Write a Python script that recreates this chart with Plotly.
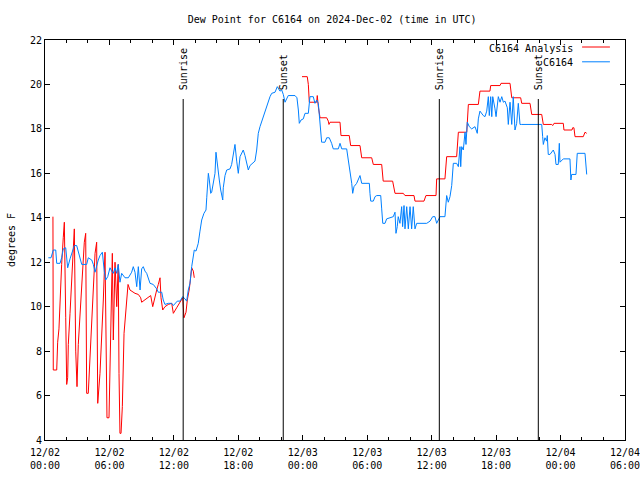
import pandas as pd
import plotly.graph_objects as go

START = pd.Timestamp("2024-12-02 00:00")

# Observed dew point (C6164): hours since 2024-12-02 00:00 UTC, degrees F
obs_hours = [0.31, 0.56, 0.77, 1.0, 1.09, 1.40, 1.55, 1.70, 1.93, 2.02, 2.11, 2.33, 2.49, 2.63, 2.73, 2.95,
             3.10, 3.26, 3.42, 3.88, 4.03, 4.35, 4.50, 4.66, 4.81, 4.96, 5.12, 5.34, 5.52, 5.65, 5.84, 6.05,
             6.21, 6.36, 6.52, 6.68, 6.82, 6.98, 7.14, 7.45, 7.76, 8.07, 8.22, 8.38, 8.54, 8.69, 8.85, 9.00,
             9.15, 9.31, 9.47, 9.62, 9.78, 10.08, 10.40, 10.55, 10.87, 11.01, 11.17, 11.48, 11.80, 11.95,
             12.10, 12.32, 12.57, 12.82, 13.04, 13.19, 13.34, 13.50, 13.66, 13.90, 14.06, 14.27, 14.43,
             14.59, 14.80, 14.99, 15.06, 15.11, 15.21, 15.30, 15.43, 15.52, 15.67, 15.83, 15.92, 16.04,
             16.23, 16.36, 16.55, 16.60, 16.76, 16.92, 17.23, 17.38, 17.53, 17.69, 17.85, 18.00, 18.16,
             18.32, 18.46, 18.62, 18.78, 18.93, 19.09, 19.40, 19.55, 19.71, 19.86, 20.02, 20.18, 20.33,
             20.48, 20.64, 20.79, 20.95, 21.11, 21.42, 21.63, 21.88, 22.04, 22.19, 22.35, 22.65, 23.28,
             23.46, 23.59, 23.68, 23.84, 24.05, 24.21, 24.52, 24.67, 24.98, 25.14, 25.30, 25.45, 25.61,
             25.67, 25.76, 25.86, 26.07, 26.23, 26.47, 26.69, 26.84, 27.31, 27.47, 27.63, 28.09, 28.24,
             28.40, 28.56, 28.65, 28.77, 29.02, 29.17, 29.33, 29.49, 29.80, 30.20, 30.26, 30.33, 30.57,
             30.73, 30.89, 31.26, 31.35, 31.45, 31.66, 31.81, 32.43, 32.59, 32.68, 32.80, 32.89, 33.05,
             33.21, 33.30, 33.43, 33.52, 33.68, 33.83, 33.99, 34.14, 34.29, 34.45, 34.61, 35.54, 35.85,
             36.10, 36.31, 36.47, 36.78, 37.24, 37.40, 37.55, 37.71, 37.87, 38.02, 38.33, 38.49, 38.64,
             38.71, 38.80, 38.95, 39.11, 39.20, 39.32, 39.51, 39.73, 40.04, 40.25, 40.35, 40.50, 40.81,
             40.97, 41.13, 41.28, 41.37, 41.50, 41.60, 41.69, 41.90, 42.00, 42.21, 42.37, 42.53, 42.68,
             42.83, 43.05, 43.14, 43.30, 43.46, 43.60, 43.76, 43.92, 44.07, 44.23, 44.39, 45.78, 46.25,
             46.34, 46.40, 46.55, 46.71, 46.77, 46.86, 47.02, 47.33, 47.49, 47.58, 47.79, 47.89, 47.95,
             48.11, 48.26, 48.88, 48.97, 49.04, 49.44, 49.56, 50.28, 50.44]
obs_values = [12.2, 12.2, 12.55, 12.55, 11.95, 11.95, 12.2, 12.6, 12.65, 12.3, 11.75, 12.15, 12.4, 12.55, 12.75, 12.75,
              12.5, 12.2, 11.9, 11.9, 12.2, 12.1, 11.9, 11.55, 11.85, 12.1, 12.3, 12.45, 11.6, 11.2, 11.35, 11.75,
              11.6, 11.5, 11.75, 11.5, 11.9, 11.1, 11.5, 11.3, 11.3, 11.55, 11.8, 11.55, 10.9, 11.8, 10.75, 11.7,
              11.8, 11.6, 11.5, 11.3, 11.05, 11.0, 10.8, 10.65, 10.65, 10.3, 10.1, 10.15, 10.15, 10.05,
              10.15, 10.25, 10.25, 10.45, 10.35, 10.25, 10.75, 11.05, 11.8, 12.55, 12.5, 12.85, 13.4,
              13.9, 14.2, 14.35, 14.9, 15.55, 16.0, 15.7, 15.1, 15.15, 15.55, 16.0, 16.95, 16.4,
              15.7, 15.25, 14.8, 15.35, 15.9, 16.15, 16.2, 16.4, 16.85, 17.3, 16.55, 16.0, 16.75,
              16.95, 17.05, 16.8, 16.5, 16.15, 16.35, 16.5, 16.55, 17.05, 17.8, 18.1, 18.35, 18.55,
              18.8, 19.0, 19.25, 19.45, 19.6, 19.65, 19.9, 19.7, 19.75, 19.55, 19.2, 19.5, 19.5,
              19.4, 18.85, 18.25, 18.4, 18.45, 18.7, 18.7, 19.45, 19.45, 19.15, 19.3, 19.15, 18.3,
              17.65, 17.4, 17.4, 17.4, 17.6, 17.6, 17.35, 17.1, 17.1, 17.35, 17.1, 17.1, 16.6,
              16.1, 15.55, 15.1, 15.4, 15.55, 15.7, 15.9, 15.55, 15.55, 15.55, 15.1, 14.75, 14.75,
              14.95, 15.0, 15.0, 14.4, 13.75, 13.75, 13.95, 14.05, 14.25, 13.3, 13.6, 14.05, 13.75,
              14.5, 13.6, 14.55, 13.5, 14.5, 13.5, 14.5, 13.5, 14.5, 13.5, 13.75, 13.75, 13.85,
              14.05, 14.05, 13.75, 14.05, 14.05, 15.0, 14.7, 14.95, 15.45, 16.45, 16.45, 16.3, 17.2,
              16.3, 17.2, 17.05, 17.85, 17.3, 18.3, 18.1, 18.0, 18.1, 17.8, 18.45, 18.8, 18.6,
              18.55, 18.8, 19.45, 18.6, 19.45, 18.55, 19.45, 18.9, 18.55, 19.45, 19.2, 19.45, 19.2,
              19.25, 18.95, 18.2, 19.2, 18.2, 19.45, 17.95, 18.25, 19.15, 18.2, 18.2, 18.2, 18.2,
              17.65, 17.3, 17.6, 17.45, 17.7, 16.85, 16.85, 17.05, 16.85, 16.4, 16.4, 17.35, 16.5,
              16.6, 16.65, 16.65, 15.7, 15.95, 15.95, 16.9, 16.9, 15.95]

# Analysis dew point (C6164 Analysis); None marks the data gap
ana_hours = [0.74, 0.77, 1.09, 1.18, 1.30, 1.40, 1.55, 1.70, 1.80, 1.93, 2.02, 2.11, 2.17, 2.33, 2.49, 2.63,
             2.73, 2.86, 2.98, 3.10, 3.26, 3.42, 3.57, 3.66, 3.79, 3.88, 4.03, 4.19, 4.35, 4.50, 4.66, 4.81,
             4.91, 5.12, 5.28, 5.43, 5.59, 5.77, 5.96, 6.05, 6.15, 6.27, 6.36, 6.52, 6.68, 6.82, 6.89, 6.98,
             7.08, 7.20, 7.36, 7.54, 7.73, 7.91, 8.07, 8.38, 8.69, 8.91, 9.00, 9.31, 9.62, 9.84, 10.03, 10.15,
             10.40, 10.55, 10.71, 10.80, 10.96, 11.17, 11.48, 11.80, 11.95, 12.26, 12.57, 12.82, 12.94, 13.13,
             13.25, 13.44, 13.57, 13.66, 13.81, 13.90,
             19.0,
             23.93, 24.42, 24.52, 24.61, 25.30, 25.35, 25.45, 25.54, 25.61, 26.23, 26.38, 26.44, 26.54, 27.47,
             27.56, 28.33, 28.46, 29.33, 29.49, 30.42, 30.57, 31.35, 31.49, 32.37, 32.50, 32.59, 33.36, 33.52,
             34.36, 34.45, 35.29, 35.47, 36.41, 36.47, 37.24, 37.40, 38.33, 38.49, 39.27, 39.42, 40.35, 40.50,
             41.43, 41.50, 42.37, 42.46, 43.30, 43.46, 44.29, 44.39, 45.16, 45.32, 46.25, 46.40, 47.18, 47.27,
             47.40, 48.26, 48.32, 49.07, 49.13, 49.25, 49.35, 50.12, 50.28, 50.44]
ana_values = [14.05, 7.15, 7.15, 8.4, 9.0, 10.6, 11.9, 13.1, 13.8, 9.5, 6.5, 6.8, 8.3, 9.7, 11.1, 12.9,
              13.5, 8.0, 6.4, 8.3, 9.7, 11.1, 12.3, 12.9, 13.3, 6.1, 6.1, 7.6, 9.2, 10.8, 12.4, 12.9,
              5.65, 7.0, 8.5, 10.3, 12.45, 5.0, 5.0, 7.0, 9.0, 12.4, 8.5, 12.0, 10.0, 11.9, 7.0, 4.3,
              4.3, 5.5, 8.8, 10.1, 11.0, 10.75, 10.7, 10.6, 10.55, 10.4, 10.2, 10.3, 10.4, 10.5, 10.0, 10.3,
              10.75, 11.0, 11.3, 10.4, 9.85, 10.0, 10.1, 10.15, 9.7, 9.95, 10.2, 10.4, 9.5, 9.75,
              10.3, 10.8, 11.35, 11.75, 11.6, 11.3,
              None,
              20.35, 20.35, 20.0, 19.2, 19.2, 19.5, 19.0, 18.8, 18.5, 18.5, 18.35, 18.2, 18.3, 18.3,
              17.7, 17.7, 17.25, 17.25, 16.7, 16.7, 16.4, 16.4, 15.65, 15.65, 15.3, 15.1, 15.1, 15.0,
              15.0, 14.75, 14.75, 15.0, 15.0, 15.75, 15.75, 16.75, 16.75, 17.85, 17.85, 19.1, 19.1, 19.7,
              19.7, 19.95, 19.95, 20.05, 20.05, 19.4, 19.4, 19.15, 19.15, 18.65, 18.65, 18.2, 18.2, 18.15,
              18.25, 18.25, 17.95, 17.95, 18.05, 18.05, 17.65, 17.65, 17.85, 17.8]

sun_events = ["2024-12-02 12:52", "2024-12-02 22:11", "2024-12-03 12:43", "2024-12-03 21:56"]
sun_labels = ["Sunrise", "Sunset", "Sunrise", "Sunset"]

tick_times = pd.date_range("2024-12-02 00:00", "2024-12-04 06:00", freq="6h")
tick_text = [t.strftime("%m/%d<br>%H:%M") for t in tick_times]

FONT = "DejaVu Sans Mono"
RED = "#ff0000"
BLUE = "#0080ff"

obs_t = START + pd.to_timedelta(obs_hours, unit="h")
ana_t = START + pd.to_timedelta(ana_hours, unit="h")

fig = go.Figure()
fig.add_trace(go.Scatter(x=ana_t, y=ana_values, mode="lines", name="C6164 Analysis",
                         line=dict(color=RED, width=1), connectgaps=False))
fig.add_trace(go.Scatter(x=obs_t, y=obs_values, mode="lines", name="C6164",
                         line=dict(color=BLUE, width=1)))

shapes = []
annotations = []
for t, lab in zip(sun_events, sun_labels):
    shapes.append(dict(type="line", xref="x", yref="paper", x0=t, x1=t, y0=0, y1=0.8525,
                       line=dict(color="black", width=1)))
    annotations.append(dict(x=t, xref="x", y=0.87, yref="paper", text=lab, showarrow=False,
                            textangle=-90, xanchor="center", yanchor="bottom",
                            font=dict(family=FONT, size=10, color="black")))

# gnuplot-style key: text right-justified, sample line to the right
key = [("C6164 Analysis", RED, 0.98), ("C6164", BLUE, 0.943)]
for lab, col, yy in key:
    annotations.append(dict(x=0.914, xref="paper", y=yy, yref="paper", text=lab, showarrow=False,
                            xanchor="right", yanchor="middle",
                            font=dict(family=FONT, size=10, color="black")))
    shapes.append(dict(type="line", xref="paper", yref="paper", x0=0.926, x1=0.974, y0=yy + 0.0025,
                       y1=yy + 0.0025, line=dict(color=col, width=1)))

fig.update_layout(
    width=640, height=480, autosize=False,
    margin=dict(l=45, r=15, t=40, b=40),
    paper_bgcolor="white", plot_bgcolor="white",
    showlegend=False,
    font=dict(family=FONT, size=10, color="black"),
    title=dict(text="Dew Point for C6164 on 2024-Dec-02 (time in UTC)", x=0.519, xanchor="center",
               y=0.96, yanchor="middle", font=dict(family=FONT, size=10, color="black")),
    shapes=shapes, annotations=annotations,
)
fig.update_xaxes(
    type="date", range=["2024-12-02 00:00", "2024-12-04 06:00:20"], automargin=False,
    tickvals=tick_times, ticktext=tick_text, ticklabelstandoff=3,
    showgrid=False, zeroline=False, showline=True, linecolor="black", linewidth=1, mirror="allticks",
    ticks="inside", ticklen=5, tickcolor="black",
    minor=dict(ticks="inside", ticklen=3, dtick=2 * 3600 * 1000, tickcolor="black", showgrid=False),
    tickfont=dict(family=FONT, size=10, color="black"),
)
fig.update_yaxes(
    range=[4, 22], dtick=2, tick0=4, automargin=False,
    showgrid=False, zeroline=False, showline=True, linecolor="black", linewidth=1, mirror="allticks",
    ticks="inside", ticklen=5, tickcolor="black",
    title=dict(text="degrees F", font=dict(family=FONT, size=10, color="black"), standoff=12),
    tickfont=dict(family=FONT, size=10, color="black"),
)

fig.write_html("out.html", config={"displayModeBar": False},
               post_script="document.body.style.margin='0';document.body.style.overflow='hidden';")
